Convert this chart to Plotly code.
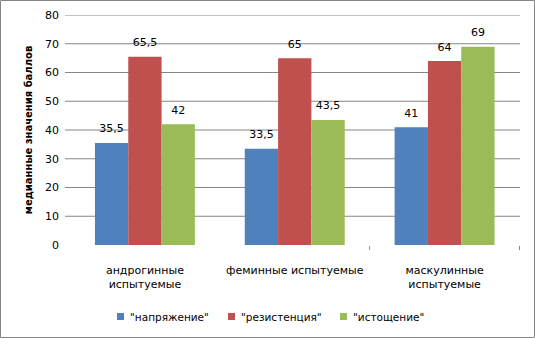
import plotly.graph_objects as go

categories = ["андрогинные<br>испытуемые", "феминные испытуемые", "маскулинные<br>испытуемые"]
series_names = ['"напряжение"', '"резистенция"', '"истощение"']
napr = [35.5, 33.5, 41]
rezist = [65.5, 65, 64]
istosh = [42, 43.5, 69]
colors = ["#4F81BD", "#C0504D", "#9BBB59"]
y_ticks = [0, 10, 20, 30, 40, 50, 60, 70, 80]

FONT = "DejaVu Sans"
GRID = "#868686"
# plot area in pixels: left 70, right 520, top 15, bottom 245
PL, PW, PB, PH = 70, 450, 245, 230

def px(x):
    return (x - PL) / PW

def py(y):
    return (PB - y) / PH

def fmt(v):
    s = ("%g" % v).replace(".", ",")
    return ("<span style='font-size:11px;color:#000000'>" + s +
            "</span><br><span style='color:rgba(0,0,0,0)'>.</span>")

fig = go.Figure()
for name, vals, col in zip(series_names, [napr, rezist, istosh], colors):
    fig.add_trace(go.Bar(
        x=categories, y=vals, name=name, marker=dict(color=col, line=dict(width=0)),
        text=[fmt(v) for v in vals], textposition="outside",
        textfont=dict(family=FONT, size=5, color="#000000"),
        cliponaxis=False, showlegend=False, constraintext="none",
    ))

# horizontal gridlines (with their outside tick stubs), none at zero
for t in y_ticks[1:]:
    fig.add_shape(type="line", xref="paper", yref="y", x0=px(65), x1=1, y0=t, y1=t,
                  line=dict(color=GRID, width=1), layer="below")

# category boundary tick marks below the axis
for b in [1.5, 2.5]:
    fig.add_shape(type="line", xref="x", yref="paper", x0=b, x1=b, y0=py(246), y1=py(250),
                  line=dict(color=GRID, width=1))

# legend drawn as squares + text
legend_sq_x = [117, 228, 340]
for name, col, lx in zip(series_names, colors, legend_sq_x):
    fig.add_shape(type="rect", xref="paper", yref="paper",
                  x0=px(lx), x1=px(lx + 7), y0=py(320), y1=py(313),
                  line=dict(width=0), fillcolor=col)
    fig.add_annotation(xref="paper", yref="paper", x=px(lx + 11), y=py(316.5),
                       xanchor="left", yanchor="middle", showarrow=False, text=name,
                       font=dict(family=FONT, size=10.5, color="#000000"))

fig.update_layout(
    width=535, height=338,
    margin=dict(l=70, r=15, t=15, b=93, autoexpand=False),
    paper_bgcolor="white", plot_bgcolor="white",
    barmode="group", bargap=0.333, bargroupgap=0,
    font=dict(family=FONT, size=11, color="#000000"),
    showlegend=False,
    xaxis=dict(showgrid=False, showline=False, ticks="", zeroline=False,
               ticklabelstandoff=17, automargin=False,
               tickfont=dict(family=FONT, size=11, color="#000000")),
    yaxis=dict(range=[0, 80], tickvals=y_ticks, showgrid=False, showline=False, ticks="",
               zeroline=False, ticklabelstandoff=10, automargin=False,
               tickfont=dict(family=FONT, size=11, color="#000000"),
               title=dict(text="<b>медианные значения баллов</b>", standoff=10,
                          font=dict(family=FONT, size=10, color="#000000"))),
)
fig.add_shape(type="rect", xref="paper", yref="paper",
              x0=px(0.5), x1=px(534.5), y0=py(337.5), y1=py(0.5),
              line=dict(color=GRID, width=1), fillcolor="rgba(0,0,0,0)", layer="above")
fig.write_html("out.html")
